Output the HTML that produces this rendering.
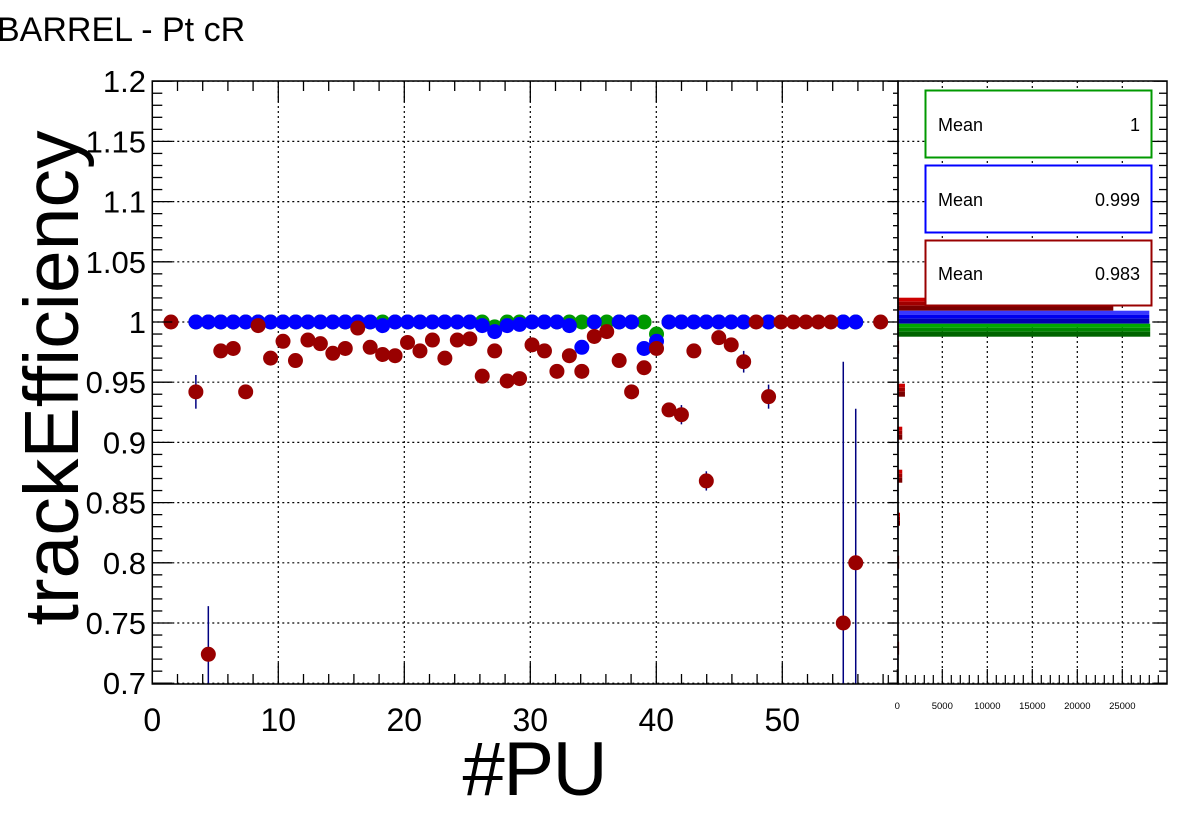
<!DOCTYPE html>
<html><head><meta charset="utf-8"><style>
html,body{margin:0;padding:0;background:#fff;}
svg{display:block;font-family:"Liberation Sans",sans-serif;}
</style></head><body>
<svg id="chart" width="1196" height="822" viewBox="0 0 1196 822" xmlns="http://www.w3.org/2000/svg">
<rect width="1196" height="822" fill="#fff"/>
<text x="-3" y="41" font-size="34">BARREL - Pt cR</text>
<text transform="translate(78,378) rotate(-90)" text-anchor="middle" font-size="77" textLength="495">trackEfficiency</text>
<text x="535" y="795" text-anchor="middle" font-size="76" textLength="145">#PU</text>
<g id="grid"></g><g id="bars"></g><g id="errs"></g><g id="marks"></g><g id="axes"></g>
<g>
<rect x="925.5" y="90.5" width="226" height="67" fill="#fff" stroke="#009900" stroke-width="2"/>
<text x="938" y="131" font-size="18">Mean</text><text x="1140" y="131" font-size="18" text-anchor="end">1</text></g>
<g>
<rect x="925.5" y="165.5" width="226" height="67" fill="#fff" stroke="#0000ff" stroke-width="2"/>
<text x="938" y="206" font-size="18">Mean</text><text x="1140" y="206" font-size="18" text-anchor="end">0.999</text></g>
<g>
<rect x="925.5" y="240.5" width="226" height="65" fill="#fff" stroke="#990000" stroke-width="2"/>
<text x="938" y="280" font-size="18">Mean</text><text x="1140" y="280" font-size="18" text-anchor="end">0.983</text></g>
</svg>
<script>
// ---- data ----
const redBins = [1,3,4,5,6,7,8,9,10,11,12,13,14,15,16,17,18,19,20,21,22,23,24,25,26,27,28,29,30,31,32,33,34,35,36,37,38,39,40,41,42,43,44,45,46,47,48,49,50,51,52,53,54,55,56,58];
const redVals = [1.0,0.942,0.724,0.976,0.978,0.942,0.997,0.970,0.984,0.968,0.985,0.982,0.974,0.978,0.995,0.979,0.973,0.972,0.983,0.976,0.985,0.970,0.985,0.986,0.955,0.976,0.951,0.953,0.981,0.976,0.959,0.972,0.959,0.988,0.992,0.968,0.942,0.962,0.978,0.927,0.923,0.976,0.868,0.987,0.981,0.967,1.0,0.938,1.0,1.0,1.0,1.0,1.0,0.75,0.80,1.0];
const redErrs = [0,0.014,0.04,0.003,0.003,0.004,0.002,0.004,0.003,0.004,0.003,0.003,0.003,0.003,0.002,0.003,0.003,0.003,0.003,0.003,0.003,0.003,0.003,0.003,0.004,0.003,0.004,0.004,0.003,0.003,0.004,0.003,0.004,0.003,0.003,0.004,0.004,0.004,0.003,0.005,0.008,0.003,0.008,0.003,0.003,0.009,0,0.01,0,0,0,0,0,0.217,0.128,0];
const blueBins = [3,4,5,6,7,8,9,10,11,12,13,14,15,16,17,18,19,20,21,22,23,24,25,26,27,28,29,30,31,32,33,34,35,37,38,39,40,41,42,43,44,45,46,47,49,55,56];
const blueVals = [1,1,1,1,1,1,1,1,1,1,1,1,1,1,1,0.997,1,1,1,1,1,1,1,0.997,0.992,0.997,0.998,1,1,1,0.997,0.979,1,1,1,0.978,0.984,1,1,1,1,1,1,1,1,1,1];
const greenBins = [3,4,5,6,7,8,9,10,11,12,13,14,15,16,17,18,19,20,21,22,23,24,25,26,27,28,29,30,31,32,33,34,35,36,37,38,39,40,41,42,43,44,45,46,47,49,55,56];
const greenVals = [1,1,1,1,1,1,1,1,1,1,1,1,1,1,1,1,1,1,1,1,1,1,1,1,0.996,1,1,1,1,1,1,1,1,1,1,1,1,0.990,1,1,1,1,1,1,1,1,1,1];
const xTicks = [0,10,20,30,40,50];
const yTicks = ["0.7","0.75","0.8","0.85","0.9","0.95","1","1.05","1.1","1.15","1.2"];
const histTicks = [0,5000,10000,15000,20000,25000];
const histBinIdx = [0,1,2,3,4,5,6,7,8];
const histRed = [200,30,200,300,550,550,850,200,24000];
const histBlue = [40,0,40,40,40,40,40,60,28000];
const histGreen = [0,0,0,0,0,0,0,20,28100];

// ---- scales ----
const L=152.3,R=898,T=81,B=684,HR=1167;
const xTick=v=>L+v*12.6;
const xBin=b=>L+(b+0.5)*12.45;
const yS=v=>322-(v-1)*1204;
const hX=c=>897.3+c*0.009;
const binW=0.5/14;
const NS="http://www.w3.org/2000/svg";
function mk(parent,tag,attrs){const e=document.createElementNS(NS,tag);for(const k in attrs)e.setAttribute(k,attrs[k]);document.getElementById(parent).appendChild(e);return e;}

for(const t of yTicks){const y=yS(+t);
 const g=mk('grid','line',{x1:L,x2:HR,y1:y,y2:y,stroke:'#000','stroke-width':1.2,'stroke-dasharray':'2,3'});
 
 }
for(const t of xTicks.slice(1)){const x=xTick(t);
 const g=mk('grid','line',{x1:x,x2:x,y1:T,y2:B,stroke:'#000','stroke-width':1.2,'stroke-dasharray':'2,3'});
 
 }
for(const t of histTicks.slice(1)){const x=hX(t);
 const g=mk('grid','line',{x1:x,x2:x,y1:T,y2:B,stroke:'#000','stroke-width':1.2,'stroke-dasharray':'2,3'});
 
 }

function hbar(k,count,slot,cols,name){if(!count)return;
 const top=yS(0.7+(k+1)*binW)+1.5+slot*13;const w=Math.max(hX(count)-hX(0),1);
 const g=mk('bars','g',{});
 
 
 const h=[4,4,5];let yy=top;
 for(let i=0;i<3;i++){const r=document.createElementNS(NS,'rect');
  r.setAttribute('x',hX(0));r.setAttribute('y',yy);r.setAttribute('width',w);r.setAttribute('height',h[i]);r.setAttribute('fill',cols[i]);g.appendChild(r);yy+=h[i];}
}
histBinIdx.forEach((k,i)=>{
 hbar(k,histRed[i],0,['#cc0000','#a00000','#7a0000'],'hist-bar-red');
 hbar(k,histBlue[i],1,['#3838ff','#0000ee','#0000b0'],'hist-bar-blue');
 hbar(k,histGreen[i],2,['#00aa00','#008800','#006400'],'hist-bar-green');
});

redBins.forEach((b,i)=>{const x=xBin(b),y=yS(redVals[i]);
 const g=mk('errs','g',{});
 
 
 const e=redErrs[i];
 const v=document.createElementNS(NS,'line');v.setAttribute('x1',x);v.setAttribute('x2',x);
 v.setAttribute('y1',Math.max(yS(redVals[i]+e),T));v.setAttribute('y2',Math.min(yS(redVals[i]-e),B));
 v.setAttribute('stroke','#000080');v.setAttribute('stroke-width',1.5);g.appendChild(v);
 const h=document.createElementNS(NS,'line');h.setAttribute('x1',x-6);h.setAttribute('x2',x+6);h.setAttribute('y1',y);h.setAttribute('y2',y);
 h.setAttribute('stroke','#000080');h.setAttribute('stroke-width',1.5);g.appendChild(h);
});

function pts(bins,vals,col,name){bins.forEach((b,i)=>{
 const c=mk('marks','circle',{cx:xBin(b),cy:yS(vals[i]),r:7.5,fill:col});
 
 });}
pts(greenBins,greenVals,'#009900','point-green');
pts(blueBins,blueVals,'#0000ff','point-blue');
pts(redBins,redVals,'#990000','point-red');

const f1=mk('axes','rect',{x:L,y:T,width:R-L,height:B-T,fill:'none',stroke:'#000','stroke-width':1.5});


const f2=mk('axes','rect',{x:R,y:T,width:HR-R,height:B-T,fill:'none',stroke:'#000','stroke-width':1.5});


for(let k=0;k<=50;k++){const v=0.7+k*0.01,y=yS(v),maj=k%5===0;const len=maj?20:10;
 mk('axes','line',{x1:L,x2:L+len,y1:y,y2:y,stroke:'#000','stroke-width':1.3});
 mk('axes','line',{x1:R-len/2,x2:R,y1:y,y2:y,stroke:'#000','stroke-width':1.3});
 mk('axes','line',{x1:HR-len/2-3,x2:HR,y1:y,y2:y,stroke:'#000','stroke-width':1.3});}
yTicks.forEach(t=>{const e=mk('axes','text',{x:146,y:yS(+t)+11,'font-size':31,'text-anchor':'end'});e.textContent=t;
 
 });
for(let v=0;v<=58;v+=2){const x=xTick(v),maj=v%10===0;
 mk('axes','line',{x1:x,x2:x,y1:B,y2:B-(maj?21:10),stroke:'#000','stroke-width':1.3});
 mk('axes','line',{x1:x,x2:x,y1:T,y2:T+(maj?21:10),stroke:'#000','stroke-width':1.3});}
xTicks.forEach(t=>{const e=mk('axes','text',{x:xTick(t),y:731,'font-size':32,'text-anchor':'middle'});e.textContent=t;
 
 });
for(let c=-1000;c<=29000;c+=1000){const x=hX(c),maj=c%5000===0;if(x<885)continue;
 mk('axes','line',{x1:x,x2:x,y1:B,y2:B-(maj?15:9),stroke:'#000','stroke-width':1.2});}
histTicks.forEach(t=>{const e=mk('axes','text',{x:hX(t),y:709,'font-size':9.5,'text-anchor':'middle'});e.textContent=t;
 
 });
</script>
</body></html>
